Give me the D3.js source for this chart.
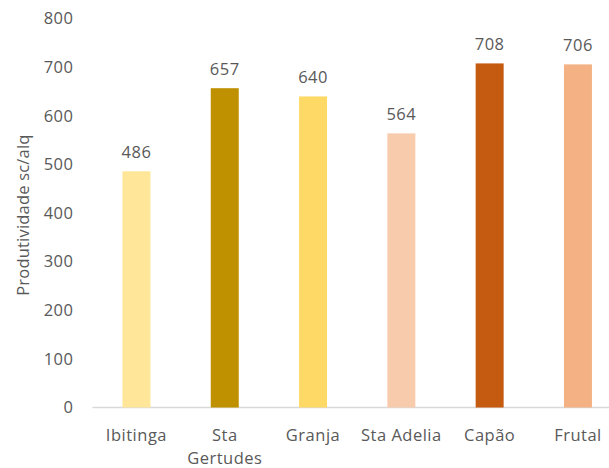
<!DOCTYPE html>
<html>
<head>
<meta charset="utf-8">
<script src="https://cdn.jsdelivr.net/npm/d3@7"></script>
<style>
  html, body { margin: 0; padding: 0; background: #fff; }
  svg { display: block; font-family: "Open Sans", "Noto Sans", sans-serif; }
</style>
</head>
<body>
<svg id="chart" width="609" height="468"></svg>
<script>
// Productivity per site (sc/alq)
const categories = ["Ibitinga", "Sta Gertudes", "Granja", "Sta Adelia", "Capão", "Frutal"];
const values = [486, 657, 640, 564, 708, 706];
const barColors = ["#FFE699", "#BF9000", "#FFD966", "#F8CBAD", "#C55A11", "#F4B183"];
const yTicks = [0, 100, 200, 300, 400, 500, 600, 700, 800];
const yTitle = "Produtividade sc/alq";

const svg = d3.select("#chart");
const textColor = "#595959";

const left = 92.3, bandStep = 88.3;
const x = d3.scaleBand()
  .domain(categories)
  .range([left, left + bandStep * categories.length])
  .paddingInner(0.683)
  .paddingOuter(0.3415);

const y = d3.scaleLinear().domain([0, 800]).range([407.5, 18.7]);

// Axis baseline
svg.append("line")
  .attr("x1", left).attr("x2", 609)
  .attr("y1", y(0)).attr("y2", y(0))
  .attr("stroke", "#D9D9D9").attr("stroke-width", 1.5);

// Y tick labels
const yAxis = d3.axisLeft(y).tickValues(yTicks).tickSize(0).tickPadding(0);
const yg = svg.append("g").attr("transform", "translate(73.5,0)").call(yAxis);
yg.select(".domain").remove();
yg.selectAll("text")
  .attr("fill", textColor)
  .attr("font-size", "16.5px")
  .attr("letter-spacing", "0.5px")
  .attr("font-family", "'Open Sans', sans-serif");

// Y axis title
svg.append("text")
  .attr("transform", `translate(25,${(y(0) + y(800)) / 2 + 2}) rotate(-90)`)
  .attr("text-anchor", "middle")
  .attr("dominant-baseline", "middle")
  .attr("fill", textColor)
  .attr("font-size", "16.5px")
  .attr("letter-spacing", "0.2px")
  .text(yTitle);

// Bars
svg.append("g").selectAll("rect")
  .data(categories)
  .join("rect")
  .attr("x", d => x(d))
  .attr("width", x.bandwidth())
  .attr("y", (d, i) => y(values[i]))
  .attr("height", (d, i) => y(0) - y(values[i]))
  .attr("fill", (d, i) => barColors[i]);

// Value labels
svg.append("g").selectAll("text")
  .data(categories)
  .join("text")
  .attr("x", d => x(d) + x.bandwidth() / 2)
  .attr("y", (d, i) => y(values[i]) - 13.5)
  .attr("text-anchor", "middle")
  .attr("fill", textColor)
  .attr("font-size", "16.5px")
  .attr("letter-spacing", "0.5px")
  .text((d, i) => values[i]);

// Category labels, wrapped to the band width
const xAxis = d3.axisBottom(x).tickSize(0).tickPadding(0);
const xg = svg.append("g").attr("transform", `translate(0,${y(0)})`).call(xAxis);
xg.select(".domain").remove();
xg.selectAll("text")
  .attr("fill", textColor)
  .attr("font-size", "16.5px")
  .attr("letter-spacing", "0.5px")
  .attr("font-family", "'Open Sans', sans-serif")
  .attr("dy", null)
  .attr("y", 0)
  .each(function () {
    const t = d3.select(this);
    const words = t.text().split(/\s+/);
    const maxW = bandStep - 2;
    t.text(null);
    let lines = [], line = [];
    const probe = t.append("tspan");
    words.forEach(w => {
      const test = line.concat(w).join(" ");
      probe.text(test);
      if (probe.node().getComputedTextLength() > maxW && line.length) {
        lines.push(line.join(" "));
        line = [w];
      } else {
        line.push(w);
      }
    });
    lines.push(line.join(" "));
    probe.remove();
    lines.forEach((l, i) => {
      t.append("tspan").attr("x", 0).attr("y", 33.5 + i * 22.5).text(l);
    });
  });
</script>
</body>
</html>
